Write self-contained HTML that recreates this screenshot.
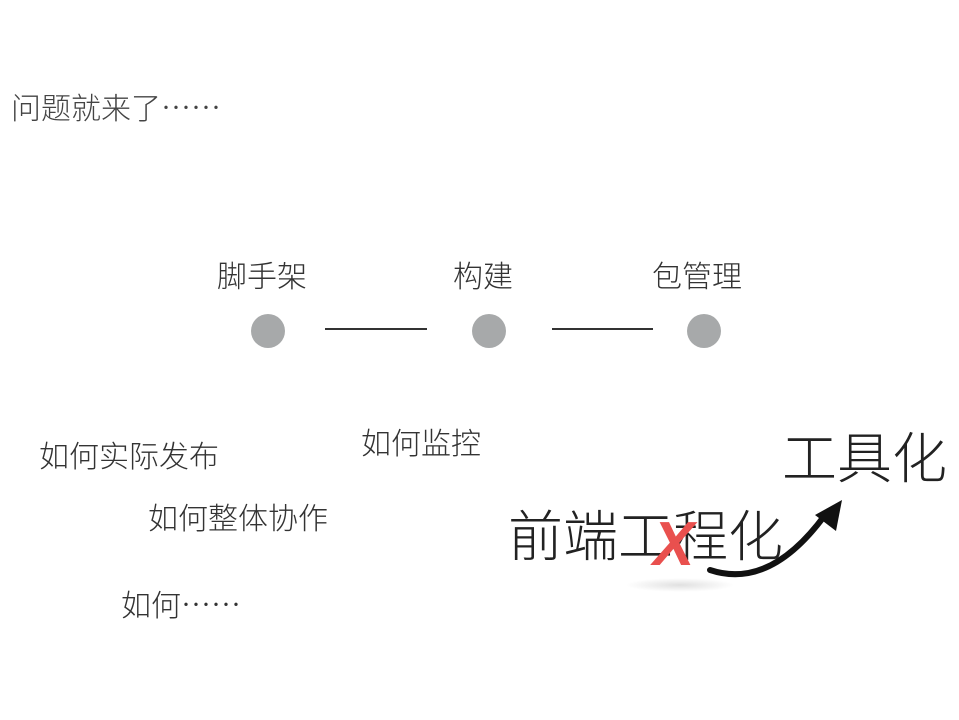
<!DOCTYPE html>
<html><head><meta charset="utf-8"><style>
html,body{margin:0;padding:0;background:#fff;}
body{width:959px;height:720px;position:relative;overflow:hidden;font-family:"Liberation Sans","Noto Sans CJK SC",sans-serif;color:#333;}
.t{position:absolute;white-space:nowrap;line-height:1;font-weight:300;}
.e{font-family:"Noto Sans CJK SC",sans-serif;}
.c{position:absolute;width:34px;height:34px;border-radius:50%;background:#a7a9aa;}
.l{position:absolute;height:1.5px;background:#333;}
</style></head><body>
<div class="t" style="left:11px;top:91px;font-size:30px;color:#444">问题就来了<span class="e">……</span></div>

<div class="t" style="left:217px;top:263px;font-size:30px">脚手架</div>
<div class="t" style="left:453px;top:263px;font-size:30px">构建</div>
<div class="t" style="left:652px;top:263px;font-size:30px">包管理</div>
<div class="c" style="left:251px;top:314px"></div>
<div class="c" style="left:472px;top:314px"></div>
<div class="c" style="left:687px;top:314px"></div>
<div class="l" style="left:325px;top:328px;width:102px"></div>
<div class="l" style="left:552px;top:328px;width:101px"></div>

<div class="t" style="left:39px;top:443px;font-size:30px">如何实际发布</div>
<div class="t" style="left:361px;top:430px;font-size:30px">如何监控</div>
<div class="t" style="left:148px;top:505px;font-size:30px">如何整体协作</div>
<div class="t" style="left:121px;top:588px;font-size:30px">如何<span class="e">……</span></div>

<div style="position:absolute;left:625px;top:578px;width:110px;height:14px;border-radius:50%;background:radial-gradient(ellipse,rgba(0,0,0,0.12),rgba(0,0,0,0) 70%)"></div>
<div class="t" style="left:508px;top:510px;font-size:55px;color:#222">前端工程化</div>
<div class="t" style="left:782px;top:432px;font-size:55px;color:#222">工具化</div>
<div class="t" style="left:653px;top:514px;font-size:62px;font-weight:bold;font-style:italic;color:#e9504e;font-family:'Liberation Sans',sans-serif">X</div>
<svg style="position:absolute;left:0;top:0" width="959" height="720">
<path d="M710 570 Q770 590 825 515" fill="none" stroke="#111" stroke-width="6" stroke-linecap="round"/>
<polygon points="842,500 836,531 815,515" fill="#111"/>
</svg>
</body></html>
